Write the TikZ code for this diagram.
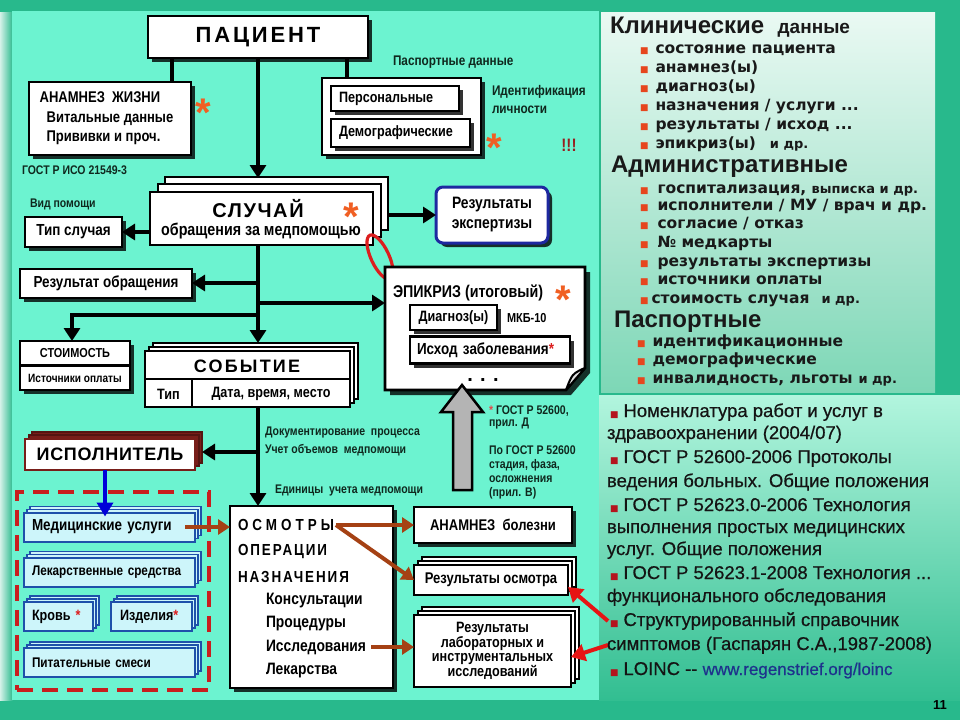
\documentclass[tikz,border=0pt]{standalone}
\usepackage{fontspec}
\setmainfont{Liberation Sans}
\newfontfamily\nar[FakeStretch=0.84]{Liberation Sans}
\newfontfamily\nrr[FakeBold=0.6]{Liberation Sans}
\newfontfamily\dv{DejaVu Sans}
\usetikzlibrary{arrows.meta,shadows,calc,shapes.geometric}
\newcommand\fsz[2]{\fontsize{#1}{#2}\selectfont}
\newcommand\ls[1]{\addfontfeature{LetterSpace=#1}}
\newcommand\astk{\raisebox{-23pt}[6pt][6pt]{*}}
\definecolor{bgg}{RGB}{40,185,140}
\definecolor{aqua}{RGB}{108,243,208}
\definecolor{astor}{RGB}{240,95,35}
\definecolor{brn}{RGB}{165,65,20}
\definecolor{dred}{RGB}{120,30,25}
\definecolor{mbox}{RGB}{205,245,250}
\definecolor{mblue}{RGB}{30,80,170}
\definecolor{eblue}{RGB}{30,40,160}
\definecolor{bul}{RGB}{230,70,30}
\definecolor{bul2}{RGB}{180,20,30}
\definecolor{txtd}{RGB}{15,40,30}
\definecolor{dashred}{RGB}{200,30,30}
\definecolor{elred}{RGB}{220,30,30}
\definecolor{arred}{RGB}{230,20,20}
\definecolor{garr}{RGB}{180,180,180}
\definecolor{toppan}{RGB}{234,249,243}
\definecolor{botpan}{RGB}{125,215,182}
\definecolor{toplo}{RGB}{178,245,222}
\definecolor{botlo}{RGB}{50,190,145}
\definecolor{urlb}{RGB}{30,50,140}
\definecolor{excl}{RGB}{150,30,30}
\begin{document}
\begin{tikzpicture}[x=1pt,y=-1pt,
  every node/.style={inner sep=0pt,outer sep=0pt},
  box/.style={draw,line width=2.6pt,fill=white},
  shd/.style={drop shadow={shadow xshift=4pt,shadow yshift=-4pt,fill=black,opacity=.8}},
  stk/.style n args={4}{general shadow={fill=#3,draw=#4,line width=1.8pt,shadow xshift=#2,shadow yshift=#2},general shadow={fill=#3,draw=#4,line width=1.8pt,shadow xshift=#1,shadow yshift=#1}},
  lab/.style={anchor=west,text=txtd,font=\nar\bfseries\fsz{13}{13}},
  ast/.style={text=astor,font=\bfseries\fsz{40}{40}},
  ln/.style={line width=4.5pt},
  arr/.style={ln,-{Triangle[length=13pt,width=16pt]}},
  brarr/.style={draw=brn,line width=4pt,-{Triangle[length=12pt,width=15pt]}},
  redarr/.style={draw=arred,line width=4pt,-{Triangle[length=14pt,width=17pt]}},
  bluearr/.style={draw=blue!85!black,line width=4pt,-{Triangle[length=14pt,width=16pt]}},
  med/.style={fill=mbox,draw=mblue,line width=2pt,stk={3pt}{6pt}{mbox}{mblue},font=\nar\bfseries\fsz{14}{14},align=left},
  rl/.style={anchor=base west,font=\dv\bfseries\fsz{15.5}{15.5},text=black!90},
  rh/.style={anchor=base west,font=\bfseries\fsz{24}{24},text=black!90},
  bl/.style={anchor=base west,font=\nrr\fsz{18.5}{18.5},text=black!92},
]
\useasboundingbox (0,0) rectangle (960,720);
% background
\fill[bgg] (0,0) rectangle (960,720);
\shade[left color=white!80!bgg,right color=bgg] (0,12) rectangle (13,700);
\fill[aqua] (12,11) rectangle (599,700);
\shade[top color=toppan,bottom color=botpan] (601,12) rectangle (935,392);
\shade[top color=toplo,bottom color=botlo] (599,395) rectangle (960,700);

% helper coordinates
\coordinate (tr) at (258,0);
\coordinate (c172) at (172,0);
\coordinate (c347) at (347,0);
\coordinate (c72) at (72,0);
\coordinate (c105) at (105,0);
\coordinate (j1) at (258,283);
\coordinate (j2) at (258,303);
\coordinate (j3) at (258,315);
\coordinate (j4) at (258,452);

% ---- patient
\node[box,shd,minimum width=220pt,minimum height=42pt,font=\bfseries\fsz{22}{22}\ls{13}] (pac) at (258,37) {ПАЦИЕНТ};
\node[box,shd,minimum width=162pt,minimum height=73pt,align=left,font=\nar\bfseries\fsz{15.5}{19.5}] (anam) at (110,118.5) {\hspace*{-7pt}АНАМНЕЗ\ \ ЖИЗНИ\\Витальные данные\\Прививки и проч.};
\node[ast] (ast1) at (203,103) {\astk};
\node[lab,font=\nar\bfseries\fsz{12.5}{12.5}] (gost1) at (22,170) {ГОСТ Р ИСО 21549-3};

\node[box,shd,minimum width=159pt,minimum height=77pt] (pas) at (401.5,116.5) {};
\node[box,shd,line width=2.4pt,minimum width=128pt,minimum height=25pt,text width=112pt,align=left,font=\nar\bfseries\fsz{15}{15}] (pers) at (395,98.5) {Персональные};
\node[box,shd,line width=2.4pt,minimum width=139pt,minimum height=28pt,text width=123pt,align=left,font=\nar\bfseries\fsz{15}{15}] (demo) at (400.5,133) {Демографические};
\node[lab,font=\nar\bfseries\fsz{14}{14}] (pasl) at (393,62) {Паспортные данные};
\node[lab,font=\nar\bfseries\fsz{14}{14}] (idl1) at (492,92) {Идентификация};
\node[lab,font=\nar\bfseries\fsz{14}{14}] (idl2) at (492,110) {личности};
\node[ast] (ast2) at (494,138) {\astk};
\node[text=excl,font=\nar\bfseries\fsz{18}{18}] (excl) at (569,145) {!!!};

% ---- case
\node[box,minimum width=223pt,minimum height=53pt,stk={8pt}{15pt}{white}{black}] (sl) at (261.5,218.5) {};
\node[font=\bfseries\fsz{20}{20}\ls{8}] (slt) at (258,209) {СЛУЧАЙ};
\node[font=\nar\bfseries\fsz{17}{17}] (sls) at (261,231) {обращения за медпомощью};
\node[ast] (ast3) at (351,207) {\astk};
\node[box,shd,minimum width=97pt,minimum height=30pt,font=\nar\bfseries\fsz{16}{16}] (tip) at (73.5,232) {Тип случая};
\node[lab,font=\nar\bfseries\fsz{12.5}{12.5}] (vid) at (30,204) {Вид помощи};
\node[draw=eblue,line width=3pt,fill=white,rounded corners=7pt,shd,minimum width=112pt,minimum height=56pt,align=center,font=\nar\bfseries\fsz{16.5}{20}] (eks) at (492,215) {Результаты\\экспертизы};
\node[draw=elred,line width=3.2pt,ellipse,minimum width=18pt,minimum height=48pt,rotate=25] (ring) at (380,257) {};

\node[box,shd,minimum width=172pt,minimum height=29pt,font=\nar\bfseries\fsz{16}{16}] (res) at (106,283.5) {Результат обращения};
\node[box,shd,minimum width=110pt,minimum height=49pt] (sto) at (75,365.5) {};
\draw[line width=2.2pt] (sto.west) -- (sto.east);
\node[font=\nar\bfseries\fsz{13}{13}] (stot) at (75,353.5) {СТОИМОСТЬ};
\node[font=\nar\bfseries\fsz{12}{12}] (stos) at (75,378.5) {Источники оплаты};

% ---- event
\node[box,minimum width=205pt,minimum height=56pt,stk={4pt}{8pt}{white}{black}] (sob) at (247.5,379) {};
\draw[line width=2.4pt] (sob.west) -- (sob.east);
\draw[line width=2.4pt] ([xshift=47pt]sob.south west) -- ([xshift=47pt]sob.west);
\node[font=\bfseries\fsz{18}{18}\ls{12}] (sobt) at (247,366) {СОБЫТИЕ};
\node[font=\nar\bfseries\fsz{15}{15}] (sobtip) at (168.5,394) {Тип};
\node[font=\nar\bfseries\fsz{15}{15}] (sobd) at (271,394) {Дата, время, место};

% ---- epicrisis
\node[minimum width=200pt,minimum height=123pt] (epi) at (485,328.5) {};
\begin{scope}[shift={(5,5)}]
\fill[black,opacity=.8] (385,267) -- (585,267) -- (585,368) -- (566,390) -- (385,390) -- cycle;
\end{scope}
\draw[line width=2.6pt,fill=white,line join=miter] (385,267) -- (585,267) -- (585,368) -- (566,390) -- (385,390) -- cycle;
\draw[line width=2pt,fill=gray!25,line join=round] (566,390) -- (585,368) .. controls (577,371) and (573,374) .. (571,378) .. controls (569,382) .. (566,390) -- cycle;
\node[anchor=base west,font=\nar\bfseries\fsz{17}{17}] (epit) at (393,297) {ЭПИКРИЗ (итоговый)};
\node[ast] (ast4) at (563,290) {\astk};
\node[box,shd,line width=2.4pt,minimum width=87pt,minimum height=25pt,font=\nar\bfseries\fsz{15}{15}] (diag) at (453.5,317.5) {Диагноз(ы)};
\node[anchor=west,font=\nar\bfseries\fsz{13}{13}] (mkb) at (507,318) {МКБ-10};
\node[box,shd,line width=2.4pt,minimum width=160pt,minimum height=27pt,text width=146pt,align=left,font=\nar\bfseries\fsz{16}{16}] (ish) at (490,350) {Исход заболевания{\color{elred}*}};
\node[anchor=base,font=\bfseries\fsz{20}{20}] (dots) at (483,381) {. . .};

% gray block arrow
\draw[fill=garr,line width=2.5pt,line join=miter] (453,490) -- (453,412) -- (441,412) -- (462,385) -- (483,412) -- (472,412) -- (472,490) -- cycle;
\node[lab,font=\nar\bfseries\fsz{12.5}{12.5}] (g1) at (489,411) {{\color{elred!80!white}*} ГОСТ Р 52600,};
\node[lab,font=\nar\bfseries\fsz{12.5}{12.5}] (g2) at (489,423) {прил. Д};
\node[lab,font=\nar\bfseries\fsz{12.5}{12.5}] (g3) at (489,450) {По ГОСТ Р 52600};
\node[lab,font=\nar\bfseries\fsz{12.5}{12.5}] (g4) at (489,465) {стадия, фаза,};
\node[lab,font=\nar\bfseries\fsz{12.5}{12.5}] (g5) at (489,479) {осложнения};
\node[lab,font=\nar\bfseries\fsz{12.5}{12.5}] (g6) at (489,493) {(прил. В)};

% ---- executor
\node[box,draw=dred,minimum width=170pt,minimum height=31pt,stk={4pt}{7pt}{dred}{dred!70!black},font=\bfseries\fsz{18}{18}\ls{4}] (isp) at (110,454.5) {ИСПОЛНИТЕЛЬ};
\node[lab,font=\nar\bfseries\fsz{12.5}{12.5}] (doc1) at (265,432) {Документирование\ \ процесса};
\node[lab,font=\nar\bfseries\fsz{12.5}{12.5}] (doc2) at (265,450) {Учет объемов\ \ медпомощи};
\node[lab,font=\nar\bfseries\fsz{12.5}{12.5}] (doc3) at (275,490) {Единицы\ \ учета медпомощи};

\node[draw=dashred,line width=4pt,dash pattern=on 16pt off 9pt,minimum width=192pt,minimum height=198pt] (grp) at (113,591) {};
\node[med,minimum width=171pt,minimum height=29pt,text width=155pt,font=\nar\bfseries\fsz{16}{16}] (med1) at (109.5,527) {Медицинские услуги};
\node[med,minimum width=171pt,minimum height=29pt,text width=155pt] (med2) at (109.5,572) {Лекарственные средства};
\node[med,minimum width=69pt,minimum height=29pt,text width=53pt,font=\nar\bfseries\fsz{15}{15}] (krov) at (58.5,616.5) {Кровь {\color{elred}*}};
\node[med,minimum width=81pt,minimum height=29pt,text width=63pt,font=\nar\bfseries\fsz{15}{15}] (izd) at (151.5,616.5) {Изделия{\color{elred}*}};
\node[med,minimum width=171pt,minimum height=29pt,text width=155pt] (pit) at (109.5,662.5) {Питательные смеси};

% ---- services
\node[box,shd,minimum width=163pt,minimum height=182pt] (osm) at (311.5,597) {};
\node[anchor=west,font=\nar\bfseries\fsz{16}{16}\ls{25}] (tosm) at (238,525) {ОСМОТРЫ};
\node[anchor=west,font=\nar\bfseries\fsz{16}{16}\ls{12}] (topr) at (238,551) {ОПЕРАЦИИ};
\node[anchor=west,font=\nar\bfseries\fsz{16}{16}\ls{12}] (tnaz) at (238,577) {НАЗНАЧЕНИЯ};
\node[anchor=west,font=\nar\bfseries\fsz{16.5}{16.5}] (tkon) at (266,601) {Консультации};
\node[anchor=west,font=\nar\bfseries\fsz{16.5}{16.5}] (tpro) at (266,624) {Процедуры};
\node[anchor=west,font=\nar\bfseries\fsz{16.5}{16.5}] (tiss) at (266,647) {Исследования};
\node[anchor=west,font=\nar\bfseries\fsz{16.5}{16.5}] (tlek) at (266,671) {Лекарства};

\node[box,shd,minimum width=158pt,minimum height=36pt,font=\nar\bfseries\fsz{15.5}{15.5}] (anb) at (493,525) {АНАМНЕЗ\ \ болезни};
\node[box,minimum width=154pt,minimum height=30pt,stk={4pt}{8pt}{white}{black},font=\nar\bfseries\fsz{15.5}{15.5}] (reso) at (491,580) {Результаты осмотра};
\node[box,minimum width=157pt,minimum height=72pt,stk={4pt}{8pt}{white}{black},align=center,font=\nar\bfseries\fsz{15}{14.5}] (resl) at (492.5,651) {Результаты\\лабораторных и\\инструментальных\\исследований};

% ---- connectors
\coordinate (sltop) at ([yshift=14pt]sl.north);
\coordinate (slr) at ([xshift=16pt]sl.east);
\coordinate (sobtop) at ([yshift=8pt]sob.north);
\coordinate (ispr) at ([xshift=7pt]isp.east);
\coordinate (medtop) at ([yshift=-4pt]med1.north);
\coordinate (m1e) at ([xshift=-10pt]med1.east);
\coordinate (tisse) at ([xshift=5pt]tiss.east);
\coordinate (tosme) at ([xshift=2pt]tosm.east);
\coordinate (r1) at (608,621);
\coordinate (r2) at (608,645);
\draw[ln] (pac.south -| c172) -- (anam.north -| c172);
\draw[ln] (pac.south -| c347) -- (pas.north -| c347);
\draw[arr] (pac.south -| tr) -- (tr |- sltop);
\draw[arr] (sl.west |- tip.east) -- (tip.east);
\draw[arr] (slr |- eks.west) -- (eks.west);
\draw[arr] (sl.south -| tr) -- (tr |- sobtop);
\draw[arr] (j1) -- (res.east |- j1);
\draw[arr] (j2) -- (epi.west |- j2);
\draw[arr] (j3) -| (sto.north -| c72);
\draw[arr] (sob.south -| tr) -- (osm.north -| tr);
\draw[arr] (j4) -- (ispr |- j4);
\draw[bluearr] (isp.south -| c105) -- (medtop -| c105);
\draw[brarr] (m1e) -- (osm.west |- m1e);
\draw[brarr] (tosme) -- (anb.west |- tosme);
\draw[brarr] (tosme) -- (reso.west);
\draw[brarr] (tisse) -- (resl.west |- tisse);
\draw[redarr] (r1) -- ([yshift=-7pt]reso.east);
\draw[redarr] (r2) -- ([yshift=-6pt]resl.east);

% ---- right panel top
\node[anchor=base west,text=black!90] (kh) at (610,33) {\bfseries\fsz{24}{24}Клинические\ \ \fsz{19}{19}данные};
\node[rl] (k1) at (640,53) {{\color{bul}\fsz{9}{9}■}\hspace{7pt}состояние пациента};
\node[rl] (k2) at (640,72) {{\color{bul}\fsz{9}{9}■}\hspace{7pt}анамнез(ы)};
\node[rl] (k3) at (640,91) {{\color{bul}\fsz{9}{9}■}\hspace{7pt}диагноз(ы)};
\node[rl] (k4) at (640,110) {{\color{bul}\fsz{9}{9}■}\hspace{7pt}назначения / услуги ...};
\node[rl] (k5) at (640,129) {{\color{bul}\fsz{9}{9}■}\hspace{7pt}результаты / исход ...};
\node[rl] (k6) at (640,148) {{\color{bul}\fsz{9}{9}■}\hspace{7pt}эпикриз(ы)\hspace{14pt}{\fsz{13}{13}и др.}};
\node[rh] (ah) at (611,172) {Административные};
\node[rl] (a1) at (640,193) {{\color{bul}\fsz{9}{9}■}\hspace{9pt}госпитализация, {\fsz{13}{13}выписка и др.}};
\node[rl] (a2) at (640,210) {{\color{bul}\fsz{9}{9}■}\hspace{9pt}исполнители / МУ / врач и др.};
\node[rl] (a3) at (640,228) {{\color{bul}\fsz{9}{9}■}\hspace{9pt}согласие / отказ};
\node[rl] (a4) at (640,247) {{\color{bul}\fsz{9}{9}■}\hspace{9pt}№ медкарты};
\node[rl] (a5) at (640,266) {{\color{bul}\fsz{9}{9}■}\hspace{9pt}результаты экспертизы};
\node[rl] (a6) at (640,284) {{\color{bul}\fsz{9}{9}■}\hspace{9pt}источники оплаты};
\node[rl] (a7) at (640,303) {{\color{bul}\fsz{9}{9}■}\hspace{3pt}стоимость случая\hspace{12pt}{\fsz{13}{13}и др.}};
\node[rh] (ph) at (614,327) {Паспортные};
\node[rl] (p1) at (637,346) {{\color{bul}\fsz{9}{9}■}\hspace{7pt}идентификационные};
\node[rl] (p2) at (637,364) {{\color{bul}\fsz{9}{9}■}\hspace{7pt}демографические};
\node[rl] (p3) at (637,383) {{\color{bul}\fsz{9}{9}■}\hspace{7pt}инвалидность, льготы\hspace{6pt}{\fsz{13}{13}и др.}};

% ---- right panel bottom
\node[bl] (b1) at (610,417) {{\color{bul2}\fsz{9}{9}\dv ■}\hspace{5pt}Номенклатура работ и услуг в};
\node[bl] (b2) at (607,439) {здравоохранении (2004/07)};
\node[bl] (b3) at (610,463) {{\color{bul2}\fsz{9}{9}\dv ■}\hspace{5pt}ГОСТ Р 52600-2006 Протоколы};
\node[bl] (b4) at (607,487) {ведения больных. Общие положения};
\node[bl] (b5) at (610,511) {{\color{bul2}\fsz{9}{9}\dv ■}\hspace{5pt}ГОСТ Р 52623.0-2006 Технология};
\node[bl] (b6) at (607,533) {выполнения простых медицинских};
\node[bl] (b7) at (607,555) {услуг. Общие положения};
\node[bl] (b8) at (610,579) {{\color{bul2}\fsz{9}{9}\dv ■}\hspace{5pt}ГОСТ Р 52623.1-2008 Технология ...};
\node[bl] (b9) at (607,602) {функционального обследования};
\node[bl] (b10) at (610,626) {{\color{bul2}\fsz{9}{9}\dv ■}\hspace{5pt}Структурированный справочник};
\node[bl] (b11) at (607,650) {симптомов (Гаспарян С.А.,1987-2008)};
\node[bl] (b12) at (610,675) {{\color{bul2}\fsz{9}{9}\dv ■}\hspace{5pt}LOINC -- {\color{urlb}\fsz{17}{17}www.regenstrief.org/loinc}};
\node[font=\bfseries\fsz{13}{13}] (pg) at (940,705) {11};
\end{tikzpicture}
\end{document}
